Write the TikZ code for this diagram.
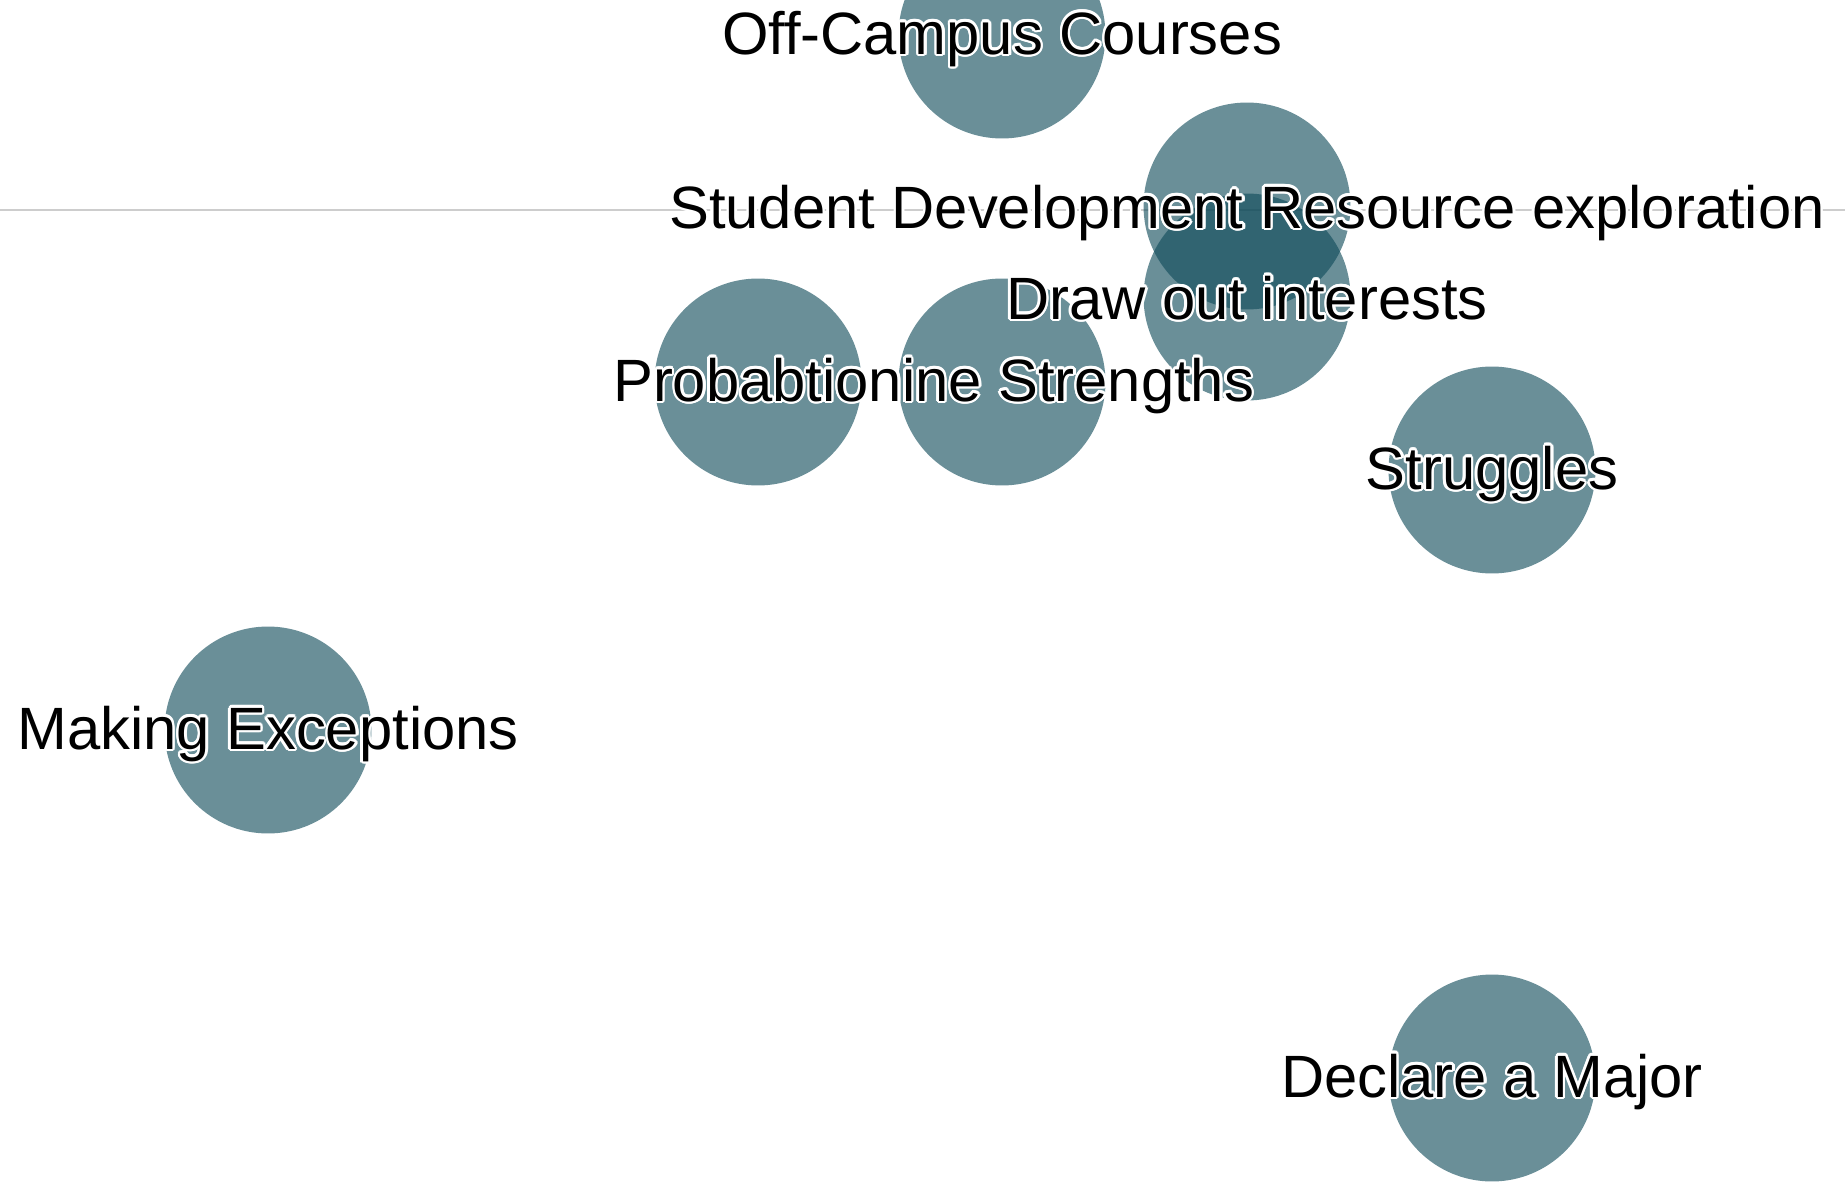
\documentclass[tikz,border=0pt]{standalone}
\usepackage{fontspec}
\setmainfont{Liberation Sans}
\usepackage{contour}
\contourlength{1.4pt}
\usepackage{xcolor}
\usetikzlibrary{calc}
\definecolor{topicteal}{RGB}{14,74,89}
\definecolor{axisgrey}{RGB}{205,205,205}

\tikzset{
  topic/.style={circle,fill=topicteal,fill opacity=0.62,minimum size=4.14cm,inner sep=0pt},
  tlabel/.style={font=\fontsize{34}{40}\selectfont,text=black,inner sep=0pt,yshift=-0.1cm}
}

\begin{document}
\begin{tikzpicture}[x=0.02cm,y=-0.02cm]
    \useasboundingbox (0,0) rectangle (1845,1186);
    \clip (0,0) rectangle (1845,1186);
    \draw[axisgrey,line width=1.2pt] (0,210) -- (1845,210);
    \node[topic] (off) at (1002,35) {};
    \node[topic] (dev) at (1247,206) {};
    \node[topic] (draw) at (1247,297) {};
    \node[topic] (prob) at (758,382) {};
    \node[topic] (str) at (1002,382) {};
    \node[topic] (strug) at (1492,470) {};
    \node[topic] (exc) at (268,730) {};
    \node[topic] (maj) at (1492,1078) {};
    \node[tlabel] (loff) at (off.center) {\contour{white}{Off-Campus Courses}};
    \node[tlabel] (ldev) at ($(dev.center)+(0,3)$) {\contour{white}{Student Development Resource exploration}};
    \node[tlabel] (ldraw) at ($(draw.center)+(0,-3)$) {\contour{white}{Draw out interests}};
    \node[tlabel] (lprob) at ($(prob.center)!0.72!(str.center)$) {\contour{white}{Probabtionine Strengths}};
    \node[tlabel] (lstrug) at (strug.center) {\contour{white}{Struggles}};
    \node[tlabel] (lexc) at (exc.center) {\contour{white}{Making Exceptions}};
    \node[tlabel] (lmaj) at (maj.center) {\contour{white}{Declare a Major}};
\end{tikzpicture}
\end{document}
